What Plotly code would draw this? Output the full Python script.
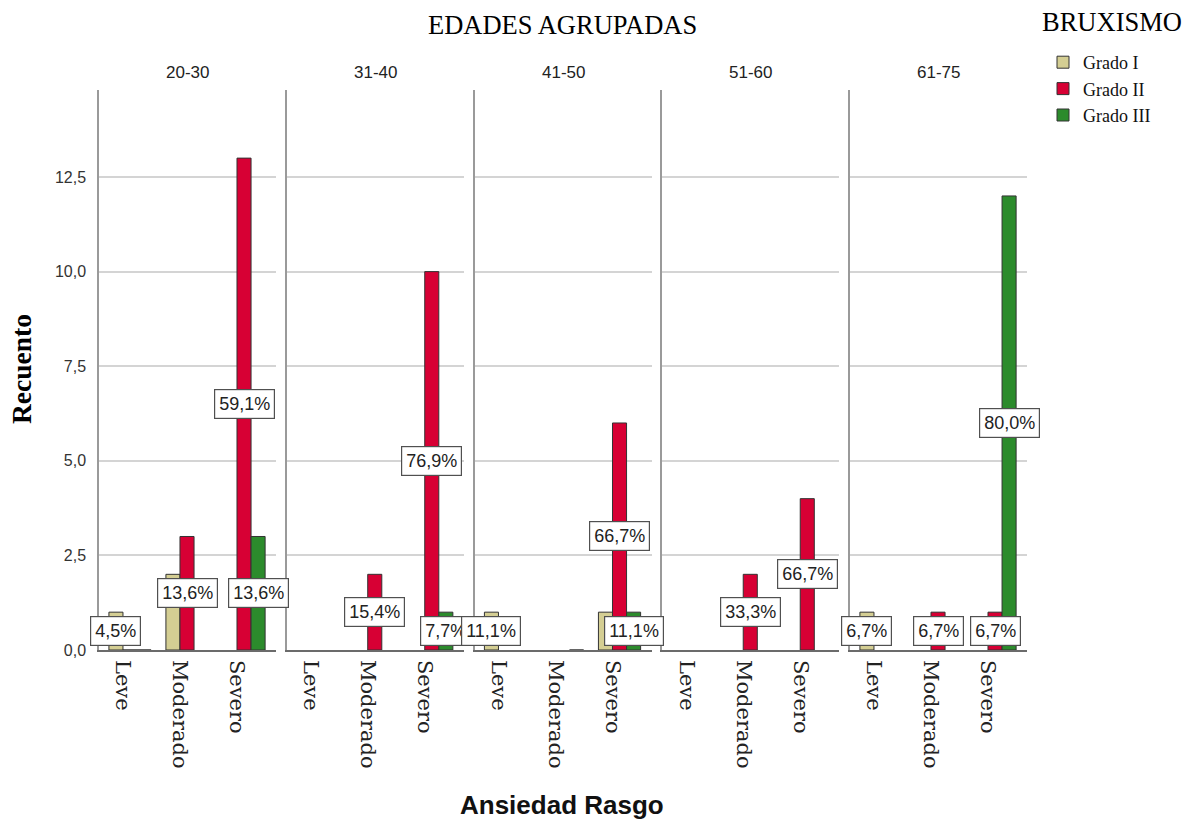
import plotly.graph_objects as go

# ---------------- data ----------------
age_groups = ["20-30", "31-40", "41-50", "51-60", "61-75"]
anxiety = ["Leve", "Moderado", "Severo"]
series_names = ["Grado I", "Grado II", "Grado III"]
series_colors = ["#D4CE93", "#D70034", "#2C8B2C"]

# counts per age group (Leve, Moderado, Severo); None = no bar drawn, 0 = empty bar
grado_1 = [[1, 2, None], [None, None, None], [1, None, 1], [None, None, None], [1, None, None]]
grado_2 = [[0, 3, 13], [None, 2, 10], [None, None, 6], [None, 2, 4], [None, 1, 1]]
grado_3 = [[0, None, 3], [None, None, 1], [None, 0, 1], [None, None, None], [None, None, 12]]
series_counts = [grado_1, grado_2, grado_3]

# bars that carry a percentage label: (age group, anxiety level, series)
labelled = [
    (0, 0, 0), (0, 1, 1), (0, 2, 1), (0, 2, 2),
    (1, 1, 1), (1, 2, 1), (1, 2, 2),
    (2, 0, 0), (2, 2, 1), (2, 2, 2),
    (3, 1, 1), (3, 2, 1),
    (4, 0, 0), (4, 1, 1), (4, 2, 1), (4, 2, 2),
]

y_ticks = [0, 2.5, 5, 7.5, 10, 12.5]

# ---------------- layout geometry ----------------
W, H = 1187, 821
HE = 812  # effective vertical scale observed in the rendered page
plot_left, panel_step, panel_w = 99, 187.75, 177
plot_top, plot_bottom = 90, 650
bargap = 0.26
x_range = [-0.544, 2.561]
y_range = [0, 14.8]


def py(v):
    return 1 - v / HE


fig = go.Figure()

n_panels = len(age_groups)
for p in range(n_panels):
    xa = "x" if p == 0 else f"x{p+1}"
    ya = "y" if p == 0 else f"y{p+1}"
    for s, name in enumerate(series_names):
        fig.add_trace(go.Bar(
            x=list(range(len(anxiety))),
            y=series_counts[s][p],
            name=name,
            legendgroup=name,
            showlegend=(p == 0),
            marker=dict(color=series_colors[s], line=dict(color="#333333", width=1)),
            xaxis=xa, yaxis=ya,
            hovertemplate=f"{age_groups[p]}<br>%{{x}}<br>{name}: %{{y}}<extra></extra>",
        ))

layout = dict(
    width=W, height=H,
    margin=dict(l=0, r=0, t=0, b=0),
    paper_bgcolor="white", plot_bgcolor="white",
    barmode="group", bargap=bargap, bargroupgap=0,
    separators=",.",
    showlegend=True,
    legend=dict(
        x=1043 / W, xanchor="left", y=py(44), yanchor="top",
        font=dict(family="Liberation Serif", size=18, color="#111"),
        bgcolor="rgba(0,0,0,0)", tracegroupgap=0,
    ),
)

y_dom = [py(plot_bottom), py(plot_top)]
annotations = []
for p in range(n_panels):
    sfx = "" if p == 0 else str(p + 1)
    x0 = plot_left + p * panel_step
    dom = [x0 / W, (x0 + panel_w) / W]
    layout[f"xaxis{sfx}"] = dict(
        domain=dom, anchor=f"y{sfx}", range=x_range,
        tickmode="array",
        tickvals=[i - 0.12 for i in range(len(anxiety))],
        ticktext=anxiety, tickangle=90, ticks="",
        tickfont=dict(family="DejaVu Serif", size=21, color="#222"),
        ticklabelstandoff=4,
        showgrid=False, zeroline=False,
        showline=True, linecolor="#6b6b6b", linewidth=1.5,
        fixedrange=True,
    )
    layout[f"yaxis{sfx}"] = dict(
        domain=y_dom, anchor=f"x{sfx}", range=y_range,
        tickmode="array", tickvals=y_ticks, tickformat=".1f",
        showticklabels=(p == 0), ticks="",
        tickfont=dict(family="Liberation Sans", size=16, color="#333"),
        showgrid=True, gridcolor="#d4d4d4", gridwidth=1.5,
        zeroline=False, showline=True, linecolor="#9a9a9a", linewidth=1.5,
        ticklabelstandoff=8,
        fixedrange=True,
    )
    if p > 0:
        layout[f"yaxis{sfx}"]["matches"] = "y"
    # panel title
    annotations.append(dict(
        text=age_groups[p], xref="paper", yref="paper",
        x=(x0 + panel_w / 2) / W, y=py(72), xanchor="center", yanchor="middle",
        showarrow=False, font=dict(family="Liberation Sans Narrow, Liberation Sans", size=17, color="#222"),
    ))

# percentage labels
bar_w = (1 - bargap) / len(series_names)
for (p, c, s) in labelled:
    sfx = "" if p == 0 else str(p + 1)
    total = sum(v or 0 for k in range(len(series_names)) for v in series_counts[k][p])
    v = series_counts[s][p][c]
    pct = f"{100 * v / total:.1f}".replace(".", ",") + "%"
    annotations.append(dict(
        text=pct, xref=f"x{sfx}", yref=f"y{sfx}",
        x=c + (s - 1) * bar_w, y=v / 2,
        xanchor="center", yanchor="middle", showarrow=False,
        font=dict(family="Liberation Sans", size=18, color="#222"),
        bgcolor="white", bordercolor="#505050", borderwidth=1.2, borderpad=4,
    ))

annotations += [
    dict(text="EDADES AGRUPADAS", xref="paper", yref="paper", x=562 / W, y=py(25),
         xanchor="center", yanchor="middle", showarrow=False,
         font=dict(family="Liberation Serif", size=26.5, color="#000")),
    dict(text="BRUXISMO", xref="paper", yref="paper", x=1040 / W, y=py(22),
         xanchor="left", yanchor="middle", showarrow=False,
         font=dict(family="Liberation Serif", size=26.5, color="#000")),
    dict(text="<b>Recuento</b>", xref="paper", yref="paper", x=22 / W, y=py(369),
         xanchor="center", yanchor="middle", showarrow=False, textangle=-90,
         font=dict(family="Liberation Serif", size=27.5, color="#000")),
    dict(text="<b>Ansiedad Rasgo</b>", xref="paper", yref="paper", x=562 / W, y=py(805),
         xanchor="center", yanchor="middle", showarrow=False,
         font=dict(family="Liberation Sans", size=26, color="#111")),
]
layout["annotations"] = annotations

fig.update_layout(**layout)
fig.write_html("out.html", config={"displayModeBar": False},
               post_script="document.body.style.margin='0';")
